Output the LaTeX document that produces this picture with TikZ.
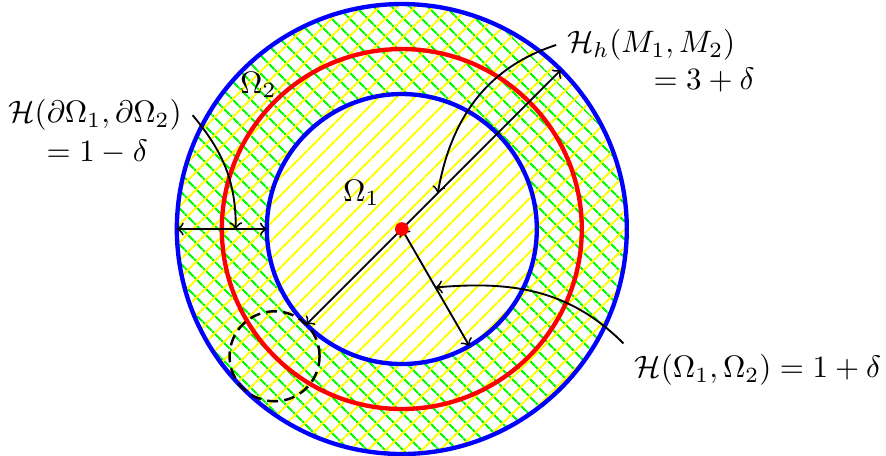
\documentclass[tikz,border=0pt]{standalone}
\usetikzlibrary{patterns.meta}
\begin{document}
\begin{tikzpicture}[x=0.51cm,y=0.51cm,
  ring/.style={line width=1.4pt},
  arrow/.style={<->, semithick},
  pointer/.style={->, semithick}
]
\useasboundingbox (-8.93,-5.04) rectangle (10.76,5.09);
\fill[pattern={Lines[angle=-45,distance=4pt,line width=0.7pt]}, pattern color=green, even odd rule] (0,0) circle (5) (0,0) circle (3);
\fill[pattern={Lines[angle=45,distance=4pt,line width=0.7pt]}, pattern color=yellow] (0,0) circle (5);
\draw[ring, blue] (0,0) circle (5);
\draw[ring, blue] (0,0) circle (3);
\draw[ring, red] (0,0) circle (4);
\draw[thick, dash pattern=on 3.5pt off 2pt] (225:4) circle (1);
\coordinate (O) at (0,0);
\coordinate (A) at (225:3);
\coordinate (B) at (45:5);
\coordinate (C) at (-60:3);
\coordinate (W1) at (180:5);
\coordinate (W2) at (180:3);
\coordinate (P) at (45:1.13);
\coordinate (Q) at (-60:1.5);
\coordinate (R) at (-3.69,0);
\draw[arrow] (A) -- (B);
\draw[arrow] (O) -- (C);
\draw[arrow] (W1) -- (W2);
\fill[red] (O) circle (2.2pt);
\node (om1) at (-0.9,0.8) {$\Omega_1$};
\node (om2) at (-3.19,3.2) {$\Omega_2$};
\node (hbd) at (-6.82,2.53) {$\mathcal{H}(\partial\Omega_1,\partial\Omega_2)$};
\node (hbdv) at (-6.77,1.72) {$=1-\delta$};
\node[anchor=west] (hh) at (3.43,4.09) {$\mathcal{H}_h(M_1,M_2)$};
\node[anchor=west] (hhv) at (5.35,3.31) {$=3+\delta$};
\node (hoo) at (7.91,-3.13) {$\mathcal{H}(\Omega_1,\Omega_2)=1+\delta$};
\draw[pointer] (hbd.east) to[out=-50,in=90] (R);
\draw[pointer] (hh.west) to[out=198,in=80] (P);
\draw[pointer] (hoo.north west) to[out=135,in=5] (Q);
\end{tikzpicture}
\end{document}
